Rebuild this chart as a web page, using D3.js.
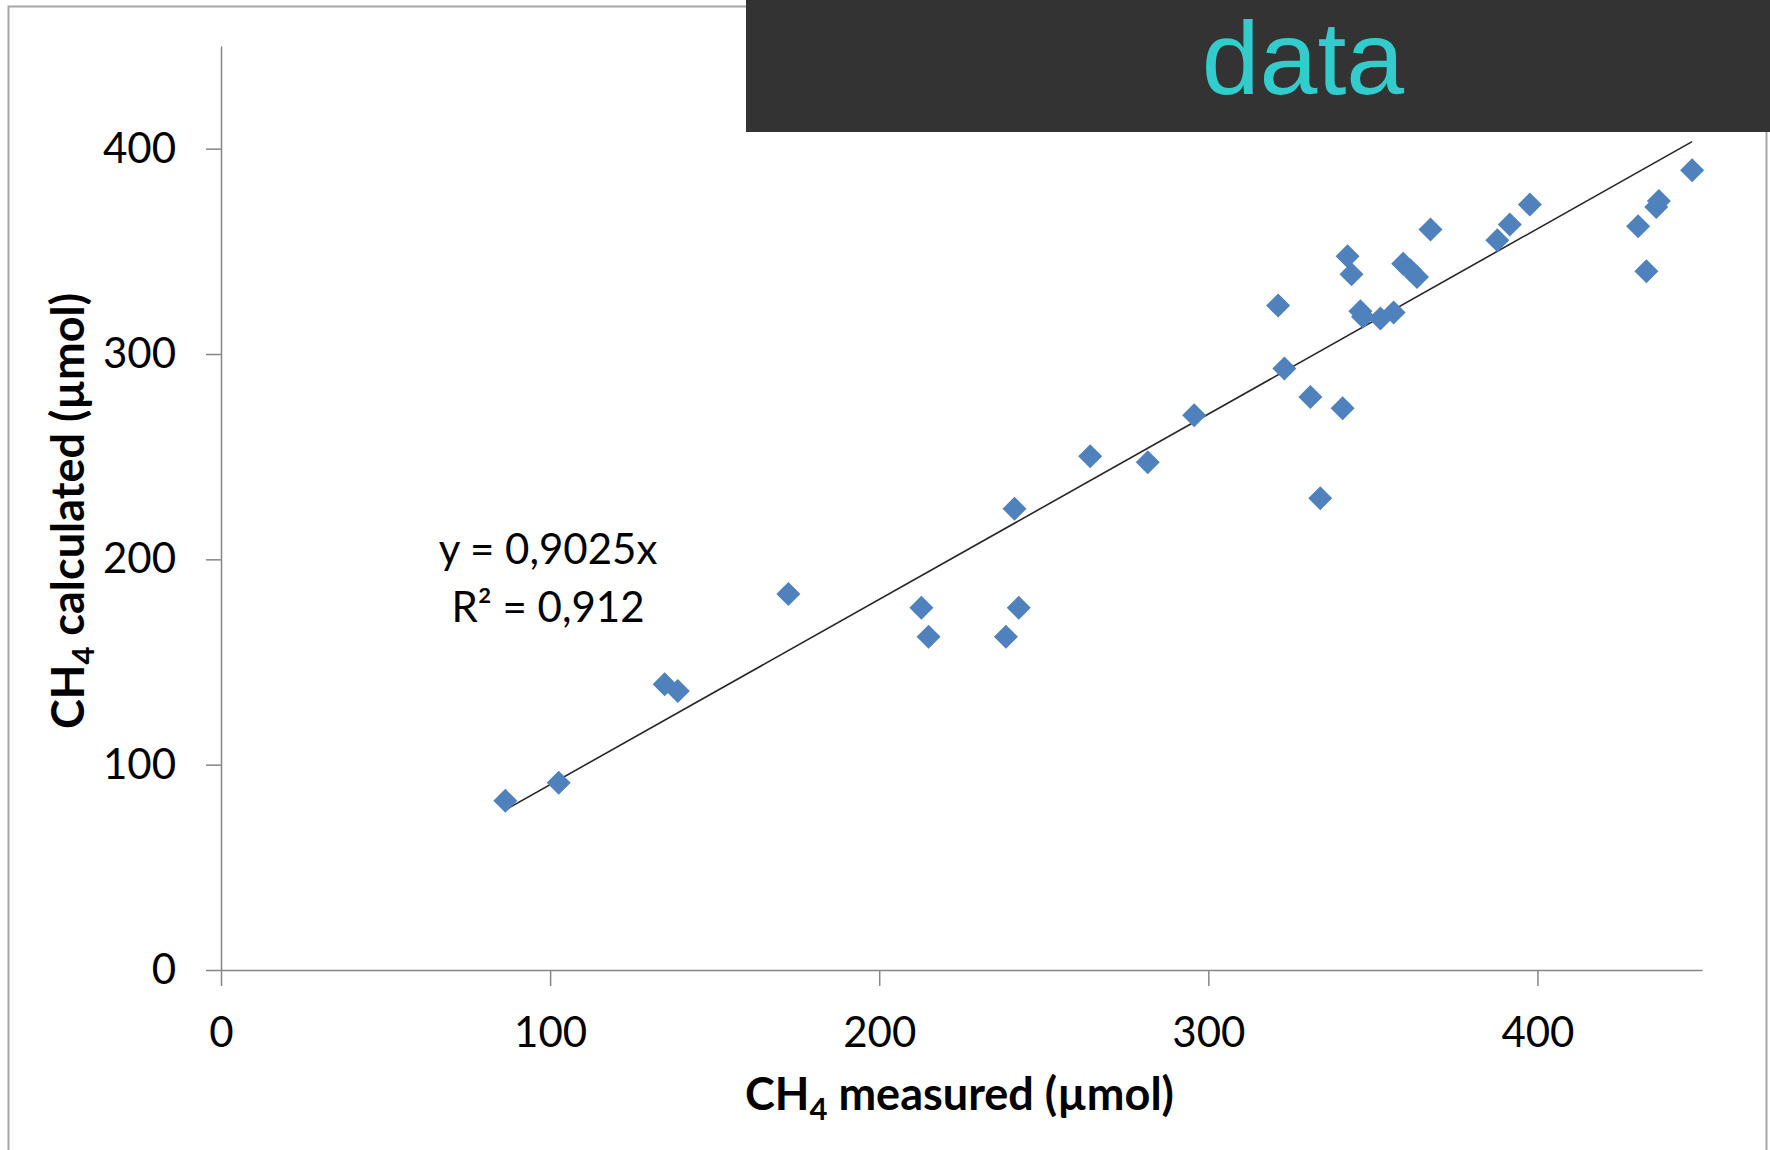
<!DOCTYPE html>
<html>
<head>
<meta charset="utf-8">
<script src="https://cdn.jsdelivr.net/npm/d3@7"></script>
<style>
  body { margin: 0; background: #fff; }
  svg { display: block; }
  .axis path, .axis line { stroke: #868686; stroke-width: 1.5px; }
  .axis text { font-family: Lato, sans-serif; font-size: 42px; fill: #000; }
</style>
</head>
<body>
<div id="chart"></div>
<script>
// CH4 measured vs calculated (µmol)
const measured = [86.4, 102.6, 134.8, 138.8, 172.4, 212.8, 215.0, 238.5, 241.1, 242.4,
  264.1, 281.6, 295.7, 321.2, 323.1, 331.0, 334.0, 340.8, 342.3, 343.5,
  346.2, 347.0, 352.3, 356.3, 359.2, 361.4, 363.4, 367.5, 387.8, 391.6,
  397.7, 430.6, 433.1, 436.1, 436.9, 447.0];
const calculated = [82.4, 91.2, 139.2, 135.9, 183.1, 176.4, 162.3, 162.3, 224.6, 176.4,
  250.2, 247.3, 270.2, 323.6, 292.9, 279.0, 229.8, 273.6, 347.6, 338.9,
  320.8, 318.1, 317.3, 320.2, 344.0, 340.8, 337.5, 360.6, 355.4, 363.1,
  372.8, 362.2, 340.3, 371.6, 374.5, 389.5];
const xTicks = [0, 100, 200, 300, 400];
const yTicks = [0, 100, 200, 300, 400];
const slope = 0.9025;
const equationLines = ['y = 0,9025x', 'R² = 0,912'];

const width = 1770;
const height = 1150;
const margin = {
  top: 46, right: 68, bottom: 180, left: 221,
};

const svg = d3.select('#chart').append('svg')
  .attr('width', width)
  .attr('height', height);

// outer frame
svg.append('rect')
  .attr('x', 8.5)
  .attr('y', 6.5)
  .attr('width', 1758)
  .attr('height', 1180)
  .attr('fill', 'none')
  .attr('stroke', '#a6a6a6')
  .attr('stroke-width', 2);

const x = d3.scaleLinear().domain([0, 450]).range([margin.left, width - margin.right]);
const y = d3.scaleLinear().domain([0, 450]).range([height - margin.bottom, margin.top]);

// axes
svg.append('g')
  .attr('class', 'axis')
  .attr('transform', `translate(0,${y(0)})`)
  .call(d3.axisBottom(x).tickValues(xTicks).tickSizeInner(16).tickSizeOuter(0).tickPadding(31));

svg.append('g')
  .attr('class', 'axis')
  .attr('transform', `translate(${x(0)},0)`)
  .call(d3.axisLeft(y).tickValues(yTicks).tickSizeInner(15).tickSizeOuter(0).tickPadding(30));

// trend line through the origin, drawn over the data range
const xExtent = d3.extent(measured);
const trend = d3.line()
  .x(d => x(d))
  .y(d => y(slope * d));
svg.append('path')
  .datum(xExtent)
  .attr('d', trend)
  .attr('fill', 'none')
  .attr('stroke', '#262626')
  .attr('stroke-width', 1.6);

// diamond markers
const squareDiamond = {
  draw(context, size) {
    const r = Math.sqrt(size / 2);
    context.moveTo(0, -r);
    context.lineTo(r, 0);
    context.lineTo(0, r);
    context.lineTo(-r, 0);
    context.closePath();
  },
};
const points = measured.map((m, i) => ({ m, c: calculated[i] }));
svg.selectAll('.dot')
  .data(points)
  .enter().append('path')
  .attr('class', 'dot')
  .attr('transform', d => `translate(${x(d.m)},${y(d.c)})`)
  .attr('d', d3.symbol().type(squareDiamond).size(288))
  .attr('fill', '#4f81bd');

// equation label
svg.append('g')
  .selectAll('text')
  .data(equationLines)
  .enter().append('text')
  .attr('x', 548)
  .attr('y', (d, i) => 564 + i * 58)
  .attr('text-anchor', 'middle')
  .style('font-family', 'Lato, sans-serif')
  .style('font-size', '42px')
  .text(d => d);

// axis titles
const xTitle = svg.append('text')
  .attr('x', x(0) + (x(450) - x(0)) / 2 - 2)
  .attr('y', 1110)
  .attr('text-anchor', 'middle')
  .style('font-family', 'Lato, sans-serif')
  .style('font-weight', 'bold')
  .style('font-size', '45px');
xTitle.append('tspan').text('CH');
xTitle.append('tspan').attr('dy', 10).style('font-size', '31px').text('4');
xTitle.append('tspan').attr('dy', -10).text(' measured (µmol)');

const yTitle = svg.append('text')
  .attr('transform', `translate(84,${(y(0) + y(450)) / 2 + 3}) rotate(-90)`)
  .attr('text-anchor', 'middle')
  .style('font-family', 'Lato, sans-serif')
  .style('font-weight', 'bold')
  .style('font-size', '45px');
yTitle.append('tspan').text('CH');
yTitle.append('tspan').attr('dy', 10).style('font-size', '31px').text('4');
yTitle.append('tspan').attr('dy', -10).text(' calculated (µmol)');

// title banner
svg.append('rect')
  .attr('x', 746)
  .attr('y', 0)
  .attr('width', width - 746)
  .attr('height', 132)
  .attr('fill', '#333333');
svg.append('text')
  .attr('x', 1303)
  .attr('y', 94)
  .attr('text-anchor', 'middle')
  .style('font-family', '"Liberation Sans", Arial, sans-serif')
  .style('font-size', '104px')
  .attr('fill', '#33cccc')
  .text('data');
</script>
</body>
</html>
